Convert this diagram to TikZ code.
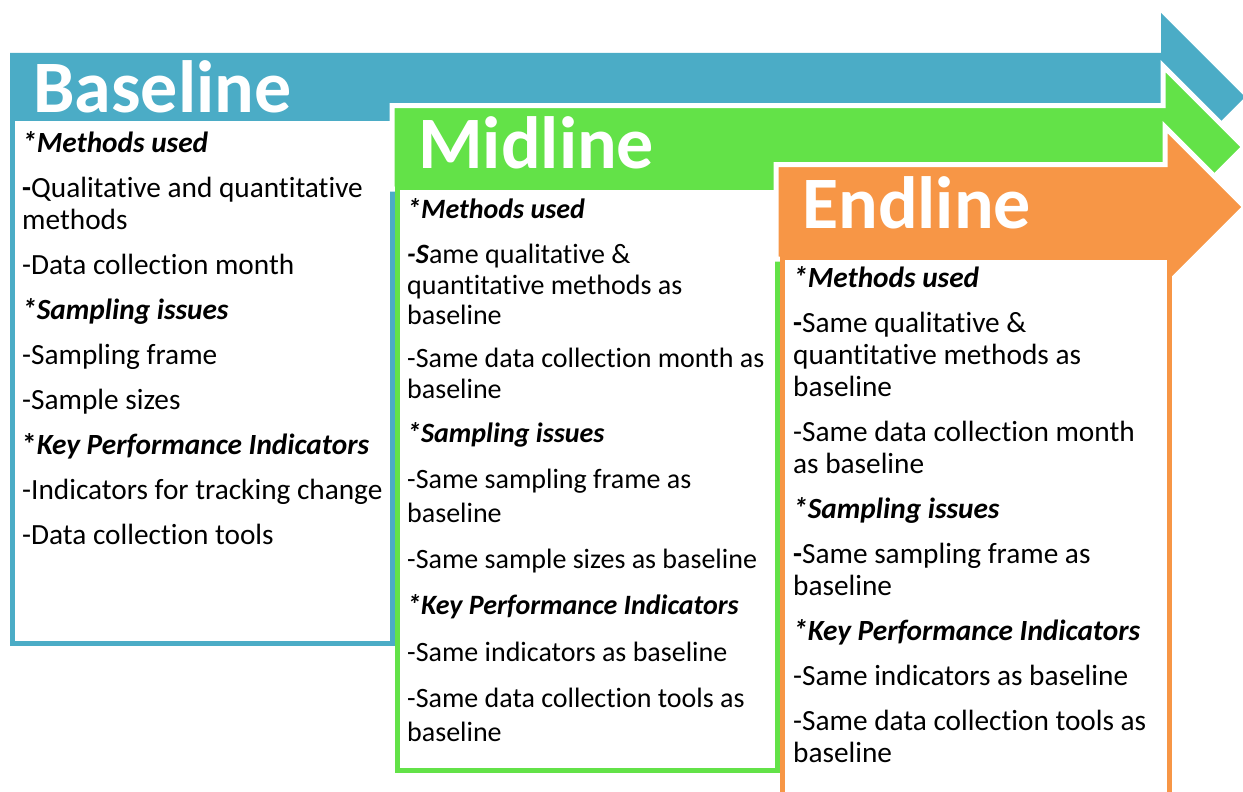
\documentclass[tikz,border=0pt]{standalone}
\usepackage{fontspec}
\setmainfont{Carlito}[Ligatures={NoCommon}]
\usetikzlibrary{positioning}
\definecolor{baseblue}{RGB}{75,172,198}
\definecolor{midgreen}{RGB}{99,226,72}
\definecolor{endorange}{RGB}{247,150,70}
\newcommand{\itemhead}[1]{\textbf{\textit{#1}}}

\begin{document}
\begin{tikzpicture}[
        x=1pt, y=-1pt,
        band/.style={draw=white, line width=5pt, line join=miter},
        panel/.style={rectangle, fill=white, line width=5pt, anchor=north west, inner sep=0pt, outer sep=0pt},
        phase/.style={anchor=base west, inner sep=0pt, text=white, font=\fontsize{74}{80}\selectfont\bfseries},
        body/.style={anchor=north west, inner sep=0pt, align=left, font=\fontsize{29.3}{32}\selectfont}
    ]
        \useasboundingbox (0,0) rectangle (1243,792);
        \clip (0,0) rectangle (1243,792);

        % baseline arrow
        \fill[baseblue] (10,53) -- (1161,53) -- (1161,13) -- (1245,97) -- (1161,181) -- (1161,141) -- (10,141) -- cycle;
        \node[panel, draw=baseblue, minimum width=379.5pt, minimum height=525pt] (basebox) at (12.5,118) {};
        \node[phase] (basetitle) at (33,112) {Baseline};
        \node[body] (basetext) at (22,129.6) {\strut\itemhead{*Methods used}\\[13pt]
            \textbf{-}Qualitative and quantitative\\
            methods\\[13pt]
            -Data collection month\\[13pt]
            \itemhead{*Sampling issues}\\[13pt]
            -Sampling frame\\[13pt]
            -Sample sizes\\[13pt]
            \textbf{*}\itemhead{Key Performance Indicators}\\[13pt]
            -Indicators for tracking change\\[13pt]
            -Data collection tools};

        % midline arrow
        \filldraw[band, fill=midgreen] (392,105.5) -- (1163,105.5) -- (1163,66) -- (1244,147) -- (1163,228) -- (1163,189) -- (392,189) -- cycle;
        \node[panel, draw=midgreen, minimum width=380pt, minimum height=583pt] (midbox) at (397,187) {};
        \node[phase] (midtitle) at (418,168) {Midline};
        \node[body, font=\fontsize{28}{31}\selectfont] (midtext) at (407,196.4) {\strut\itemhead{*Methods used}\\[14pt]
            \itemhead{-S}ame qualitative \&\\
            quantitative methods as\\[-1pt]
            baseline\\[12pt]
            -Same data collection month as\\
            baseline\\[13pt]
            \itemhead{*Sampling issues}\\[15pt]
            -Same sampling frame as\\[3pt]
            baseline\\[15pt]
            -Same sample sizes as baseline\\[15pt]
            \itemhead{*Key Performance Indicators}\\[16pt]
            -Same indicators as baseline\\[15pt]
            -Same data collection tools as\\[3pt]
            baseline};

        % endline arrow
        \filldraw[band, fill=endorange] (776,164.5) -- (1165,164.5) -- (1165,127) -- (1245,207) -- (1165,287) -- (1165,259) -- (776,259) -- cycle;
        \node[panel, draw=endorange, minimum width=387pt, minimum height=560pt] (endbox) at (782,257) {};
        \node[phase] (endtitle) at (802,228) {Endline};
        \node[body] (endtext) at (793,264.6) {\strut\itemhead{*Methods used}\\[13pt]
            \textbf{-}Same qualitative \&\\
            quantitative methods as\\
            baseline\\[13pt]
            -Same data collection month\\
            as baseline\\[13pt]
            \itemhead{*Sampling issues}\\[13pt]
            \textbf{-}Same sampling frame as\\
            baseline\\[13pt]
            \itemhead{*Key Performance Indicators}\\[13pt]
            -Same indicators as baseline\\[13pt]
            -Same data collection tools as\\
            baseline};
    \end{tikzpicture}
\end{document}
